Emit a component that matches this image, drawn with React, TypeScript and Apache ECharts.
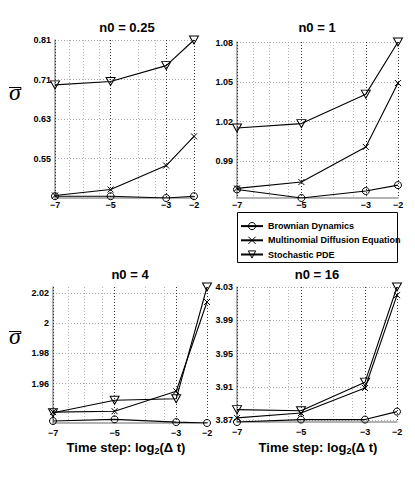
import React, { useEffect, useRef } from 'react';
import * as echarts from 'echarts';

const FONT = 'Liberation Sans, Arial, sans-serif';

// x: time step log2(Δt)
const xSteps = [-7, -5, -3, -2];
const xTicks = [-7, -5, -3, -2];
const xMinorGrid = [-6.5, -6, -5.4, -4, -3.4];

const seriesNames = ['Brownian Dynamics', 'Multinomial Diffusion Equation', 'Stochastic PDE'];
const panelTitles = ['n0 = 0.25', 'n0 = 1', 'n0 = 4', 'n0 = 16'];
const xNameParts = ['Time step: log', '2', '(\u0394 t)'];

// n0 = 0.25
const bd025 = [0.462, 0.462, 0.458, 0.462];
const mde025 = [0.4636, 0.4769, 0.5302, 0.5953];
const spde025 = [0.71, 0.7174, 0.7529, 0.81];
// n0 = 1
const bd1 = [0.9685, 0.962, 0.9673, 0.9718];
const mde1 = [0.9693, 0.9741, 1.0008, 1.0493];
const spde1 = [1.0152, 1.0185, 1.0409, 1.0805];
// n0 = 4
const bd4 = [1.9353, 1.9364, 1.9346, 1.934];
const mde4 = [1.9412, 1.9418, 1.955, 2.014];
const spde4 = [1.9408, 1.949, 1.95, 2.0239];
// n0 = 16
const bd16 = [3.8678, 3.8707, 3.8707, 3.8803];
const mde16 = [3.8727, 3.8786, 3.9086, 4.0202];
const spde16 = [3.8827, 3.8813, 3.9157, 4.03];

const yMins = [0.458, 0.962, 1.934, 3.8678];
const yMaxs = [0.81, 1.0805, 2.0239, 4.03];
const yTickValues = [
  [0.546, 0.634, 0.722, 0.81],
  [0.99, 1.02, 1.05, 1.08],
  [1.96, 1.98, 2.0, 2.02],
  [3.87, 3.91, 3.95, 3.99, 4.03],
];
const yTickLabels = [
  ['0.55', '0.63', '0.71', '0.81'],
  ['0.99', '1.02', '1.05', '1.08'],
  ['1.96', '1.98', '2', '2.02'],
  ['3.87', '3.91', '3.95', '3.99', '4.03'],
];

const panelData = [
  [bd025, mde025, spde025],
  [bd1, mde1, spde1],
  [bd4, mde4, spde4],
  [bd16, mde16, spde16],
];

// layout
const grids = [
  { left: 55, top: 40, width: 139, height: 158 },
  { left: 237, top: 42, width: 161, height: 156 },
  { left: 53, top: 287, width: 154, height: 136 },
  { left: 237, top: 287, width: 160, height: 135 },
];
const titlePos = [
  [127, 27],
  [317, 27],
  [130, 274],
  [317, 274],
];
const xLabelMargins = [2, 2, 5, 5];

const symbols = [
  { symbol: 'circle', size: 7, rotate: 0 },
  { symbol: 'path://M0 0L10 10M10 0L0 10', size: 6, rotate: 0 },
  { symbol: 'triangle', size: [9, 8], rotate: 180 },
];

const minus = (v: number) => (v < 0 ? '\u2212' + Math.abs(v) : String(v));

function measure(text: string, size: number): number {
  const c = document.createElement('canvas').getContext('2d');
  if (!c) return text.length * size * 0.55;
  c.font = `bold ${size}px ${FONT}`;
  return c.measureText(text).width;
}

export default function App() {
  const ref = useRef<HTMLDivElement>(null);
  useEffect(() => {
    if (!ref.current) return;
    const chart = echarts.init(ref.current, undefined, { renderer: 'svg' });

    const xAxes: any[] = [];
    const yAxes: any[] = [];
    const series: any[] = [];
    grids.forEach((g, i) => {
      xAxes.push({
        type: 'value',
        gridIndex: i,
        min: -7,
        max: -2,
        position: 'bottom',
        axisLine: { show: true, onZero: false, lineStyle: { color: '#9a9a9a', width: 1.5 } },
        axisTick: { show: false, customValues: xTicks },
        axisLabel: {
          customValues: xTicks,
          formatter: (v: number) => minus(v),
          fontFamily: FONT,
          fontWeight: 'bold',
          fontSize: 9,
          color: '#000',
          margin: xLabelMargins[i],
        },
        splitLine: { show: true, lineStyle: { color: '#333', width: 1, type: [1, 2] } },
        z: 3,
      });
      xAxes.push({
        type: 'value',
        gridIndex: i,
        min: -7,
        max: -2,
        position: 'bottom',
        axisLine: { show: false },
        axisTick: { show: false, customValues: xMinorGrid },
        axisLabel: { show: false },
        splitLine: { show: true, lineStyle: { color: '#b5b5b5', width: 1, type: [1, 2] } },
        z: 1,
      });
      const ticks = yTickValues[i];
      const labels = yTickLabels[i];
      yAxes.push({
        type: 'value',
        gridIndex: i,
        min: yMins[i],
        max: yMaxs[i],
        axisLine: { show: true, onZero: false, lineStyle: { color: '#9a9a9a', width: 1.5 } },
        axisTick: { show: false, customValues: ticks },
        axisLabel: {
          customValues: ticks,
          formatter: (v: number) => {
            let best = 0;
            ticks.forEach((t, k) => {
              if (Math.abs(t - v) < Math.abs(ticks[best] - v)) best = k;
            });
            return labels[best];
          },
          fontFamily: FONT,
          fontWeight: 'bold',
          fontSize: 9,
          color: '#000',
          margin: 4,
        },
        splitLine: { show: true, lineStyle: { color: '#a8a8a8', width: 1, type: [1, 2] } },
      });
      panelData[i].forEach((vals, s) => {
        series.push({
          type: 'line',
          name: seriesNames[s],
          xAxisIndex: 2 * i,
          yAxisIndex: i,
          data: xSteps.map((x, k) => [x, vals[k]]),
          symbol: symbols[s].symbol,
          symbolSize: symbols[s].size,
          symbolRotate: symbols[s].rotate,
          showSymbol: true,
          lineStyle: { color: '#000', width: 1.1 },
          itemStyle: { color: 'none', borderColor: '#000', borderWidth: 1 },
          emphasis: { disabled: true },
          z: 5,
        });
      });
    });

    const titleText = (t: string, x: number, y: number) => ({
      type: 'text',
      x,
      y,
      style: {
        text: t,
        align: 'center',
        verticalAlign: 'middle',
        fontFamily: FONT,
        fontWeight: 'bold',
        fontSize: 13,
        fill: '#000',
      },
    });
    const sigma = (cx: number, cy: number) => [
      {
        type: 'text',
        x: cx,
        y: cy - 4,
        style: {
          text: '\u03C3',
          align: 'center',
          verticalAlign: 'middle',
          fontFamily: 'Liberation Serif, DejaVu Serif, serif',
          fontStyle: 'italic',
          fontSize: 24,
          fill: '#000',
        },
      },
      {
        type: 'line',
        shape: { x1: cx - 6, y1: cy - 8.5, x2: cx + 6, y2: cy - 8.5 },
        style: { stroke: '#000', lineWidth: 1 },
      },
    ];
    const wA = measure(xNameParts[0], 13);
    const wB = measure(xNameParts[1], 9);
    const wC = measure(xNameParts[2], 13);
    const xName = (cx: number, cy: number) => {
      const x0 = cx - (wA + wB + wC) / 2;
      const base = { fontFamily: FONT, fontWeight: 'bold', fill: '#000', align: 'left', verticalAlign: 'middle' };
      return [
        { type: 'text', x: x0, y: cy, style: { ...base, text: xNameParts[0], fontSize: 13 } },
        { type: 'text', x: x0 + wA, y: cy + 4, style: { ...base, text: xNameParts[1], fontSize: 9 } },
        { type: 'text', x: x0 + wA + wB, y: cy, style: { ...base, text: xNameParts[2], fontSize: 13 } },
      ];
    };

    const graphic: any[] = [
      ...panelTitles.map((t, i) => titleText(t, titlePos[i][0], titlePos[i][1])),
      ...sigma(15, 96),
      ...sigma(15, 340),
      ...xName(126, 447),
      ...xName(318, 447),
      {
        type: 'rect',
        shape: { x: 237.5, y: 212.5, width: 160, height: 50 },
        style: { fill: 'none', stroke: '#000', lineWidth: 1 },
        z: 10,
      },
    ];

    chart.setOption({
      animation: false,
      backgroundColor: '#fff',
      grid: grids.map((g) => ({ ...g, containLabel: false })),
      xAxis: xAxes,
      yAxis: yAxes,
      series,
      legend: {
        orient: 'vertical',
        left: 240,
        top: 220,
        padding: 0,
        itemWidth: 22,
        itemHeight: 9,
        itemGap: 2,
        selectedMode: false,
        data: seriesNames,
        itemStyle: { borderWidth: 1 },
        textStyle: { fontFamily: FONT, fontWeight: 'bold', fontSize: 9, color: '#000' },
      },
      graphic,
    });
    return () => chart.dispose();
  }, []);
  return (
    <div
      ref={ref}
      style={{ position: 'absolute', left: 0, top: 0, width: 415, height: 477, background: '#fff' }}
    />
  );
}
